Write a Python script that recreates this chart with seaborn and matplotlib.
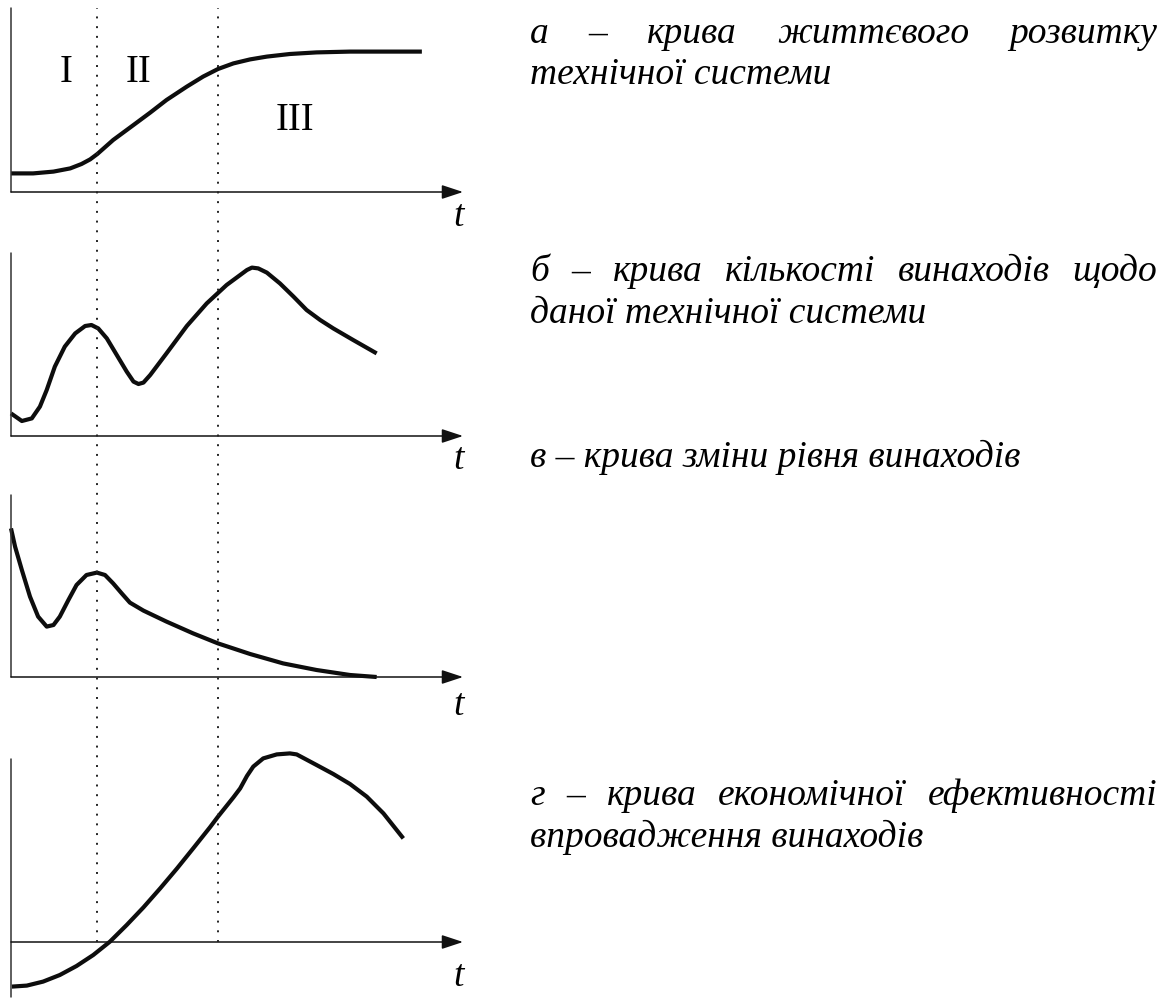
import matplotlib
matplotlib.use("Agg")
import matplotlib.pyplot as plt
import seaborn as sns

# time axis: 0 at the y-axis, 10 at the arrow tip
t_marks = [1.90, 4.58]

# а - life curve of a technical system
a_t = [0, 0.49, 0.94, 1.31, 1.56, 1.75, 1.91, 2.26, 2.71, 3.08, 3.44, 3.89, 4.25,
       4.58, 4.92, 5.29, 5.66, 6.17, 6.76, 7.50, 9.09]
a_y = [0.93, 0.93, 1.02, 1.18, 1.4, 1.63, 1.9, 2.6, 3.35, 3.97, 4.6, 5.27, 5.77,
       6.15, 6.43, 6.63, 6.77, 6.9, 6.98, 7.02, 7.02]

# б - number of inventions
b_t = [0, 0.24, 0.46, 0.64, 0.79, 0.97, 1.19, 1.42, 1.64, 1.78, 1.93, 2.12, 2.34,
       2.56, 2.71, 2.82, 2.93, 3.08, 3.44, 3.89, 4.33, 4.77, 5.07, 5.22, 5.33,
       5.47, 5.66, 5.95, 6.25, 6.54, 6.84, 7.13, 7.57, 8.09]
b_y = [1.13, 0.75, 0.88, 1.47, 2.3, 3.47, 4.47, 5.13, 5.5, 5.55, 5.38, 4.88, 4.05,
       3.22, 2.72, 2.6, 2.67, 3.05, 4.13, 5.5, 6.63, 7.55, 8.05, 8.3, 8.42,
       8.38, 8.17, 7.63, 6.97, 6.3, 5.8, 5.38, 4.8, 4.13]

# в - level of inventions
c_t = [0, 0.09, 0.24, 0.42, 0.60, 0.79, 0.94, 1.08, 1.27, 1.45, 1.67, 1.90, 2.08,
       2.26, 2.45, 2.63, 2.93, 3.44, 4.03, 4.58, 5.29, 6.02, 6.76, 7.50, 8.09]
c_y = [7.43, 6.52, 5.35, 4.02, 3.02, 2.52, 2.6, 3.02, 3.85, 4.6, 5.1, 5.22, 5.1,
       4.68, 4.18, 3.72, 3.32, 2.77, 2.18, 1.68, 1.15, 0.68, 0.35, 0.1, 0]

# г - economic efficiency
d_t = [0.02, 0.35, 0.71, 1.08, 1.45, 1.82, 2.19, 2.56, 2.93, 3.30, 3.67, 4.03, 4.40,
       4.58, 4.92, 5.07, 5.22, 5.36, 5.58, 5.88, 6.17, 6.32, 6.76, 7.13, 7.50,
       7.87, 8.24, 8.68]
d_y = [-2.23, -2.18, -1.98, -1.65, -1.2, -0.65, 0.02, 0.85, 1.73, 2.68, 3.67, 4.68, 5.73,
       6.27, 7.23, 7.68, 8.3, 8.77, 9.18, 9.38, 9.43, 9.38, 8.85, 8.4, 7.9,
       7.27, 6.43, 5.18]

stage_labels = ["I", "II", "III"]
stage_t = [1.22, 2.81, 6.28]
stage_y = [5.95, 5.95, 3.6]

captions = [
    ["а – крива життєвого розвитку", "технічної системи"],
    ["б – крива кількості винаходів щодо", "даної технічної системи"],
    ["в – крива зміни рівня винаходів"],
    ["г – крива економічної ефективності", "впровадження винаходів"],
]
caption_base = [[43, 84], [281, 323], [467], [805, 847]]

W, H = 1167, 998

sns.set_theme(style="white")
plt.rcParams["font.family"] = ["Liberation Serif", "DejaVu Serif"]
plt.rcParams["text.color"] = "black"

fig = plt.figure(figsize=(W / 100, H / 100), dpi=100)
fig.patch.set_facecolor("white")


def px_axes(x0, x1, ytop, ybot):
    return fig.add_axes([x0 / W, 1 - ybot / H, (x1 - x0) / W, (ybot - ytop) / H])


X0, X1 = 11, 463
# (top px, x-axis px, bottom px, t-label y)
panels = [
    (a_t, a_y, 8, 192, 192, -1.25),
    (b_t, b_y, 253, 436, 436, -1.2),
    (c_t, c_y, 495, 677, 677, -1.45),
    (d_t, d_y, 759, 942, 997, -1.75),
]

bg = px_axes(0, 470, 0, H)
bg.set_facecolor("#fbfbf8")
bg.set_axis_off()
bg.patch.set_visible(True)
bg.set_zorder(-5)

axes = []
for tt, yy, top, xax, bot, tlab in panels:
    ax = px_axes(X0, X1, top, bot)
    ax.set_xlim(0, 10)
    ax.set_ylim(-(bot - xax) / 20, (xax - top) / 20)
    ax.patch.set_visible(False)
    for s in ax.spines.values():
        s.set_visible(False)
    ax.set_xticks([])
    ax.set_yticks([])
    sns.lineplot(x=tt, y=yy, ax=ax, sort=False, estimator=None, color="#0d0d0d",
                 linewidth=3.0, clip_on=False, solid_capstyle="butt",
                 solid_joinstyle="round")
    ylo, yhi = ax.get_ylim()
    ax.plot([0, 0], [ylo, yhi], color="#333333", linewidth=1.1, clip_on=False)
    ax.annotate("", xy=(10, 0), xytext=(0, 0), annotation_clip=False,
                arrowprops=dict(arrowstyle="-|>,head_length=1.0,head_width=0.33",
                                mutation_scale=13, color="#111111", lw=1.1,
                                shrinkA=0, shrinkB=0))
    ax.text(9.9, tlab, "t", fontsize=27, style="italic", ha="center", va="center")
    axes.append(ax)

for lab, tx, ty in zip(stage_labels, stage_t, stage_y):
    axes[0].text(tx, ty, lab, fontsize=28, ha="center", va="center")

ov = px_axes(X0, X1, 8, 942)
ov.set_xlim(0, 10)
ov.set_ylim(0, 1)
ov.set_axis_off()
ov.vlines(t_marks, 0, 1, colors="#222222", linewidth=1.4, linestyles=(0, (1, 4)))

# captions, first lines of multi-line paragraphs are justified
TX0, TX1 = 530, 1157
renderer = fig.canvas.get_renderer()
kw = dict(fontsize=27, style="italic", va="baseline", ha="left")
for lines, bases in zip(captions, caption_base):
    for i, (line, base) in enumerate(zip(lines, bases)):
        y = 1 - base / H
        if i == len(lines) - 1:
            fig.text(TX0 / W, y, line, **kw)
            continue
        words = line.split(" ")
        txts = [fig.text(0, y, w, **kw) for w in words]
        widths = [t.get_window_extent(renderer).width for t in txts]
        gap = (TX1 - TX0 - sum(widths)) / (len(words) - 1)
        x = TX0
        for t, w in zip(txts, widths):
            t.set_x(x / W)
            x += w + gap

fig.savefig("out.png", dpi=100, facecolor="white")
